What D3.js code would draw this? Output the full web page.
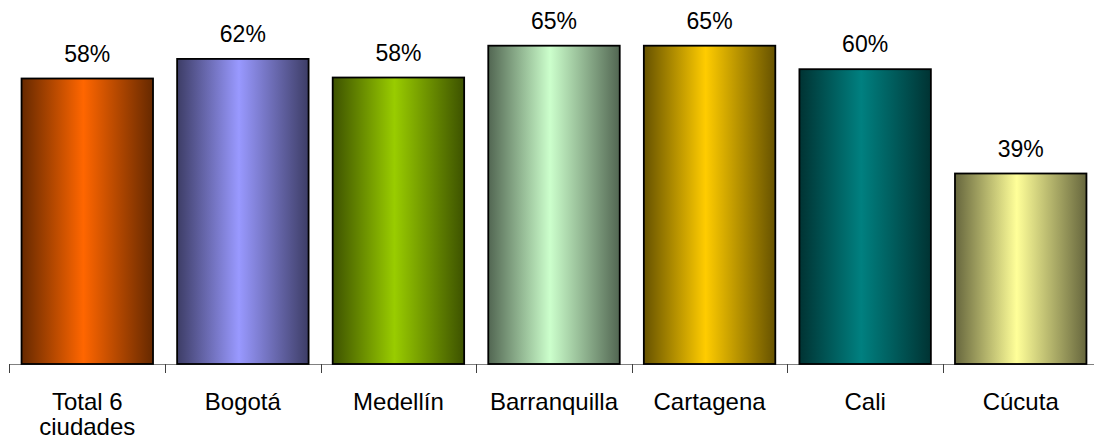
<!DOCTYPE html>
<html>
<head>
<meta charset="utf-8">
<script src="https://cdn.jsdelivr.net/npm/d3@7/dist/d3.min.js"></script>
<style>
  html, body { margin: 0; padding: 0; background: #fff; }
  svg { display: block; }
  text { font-family: "Liberation Sans", Arial, sans-serif; fill: #000; }
</style>
</head>
<body>
<svg id="chart" width="1094" height="444"></svg>
<script>
const categories = ["Total 6\nciudades", "Bogotá", "Medellín", "Barranquilla", "Cartagena", "Cali", "Cúcuta"];
const values = [58.3, 62.3, 58.5, 65, 65, 60.2, 38.9];
const valueLabels = ["58%", "62%", "58%", "65%", "65%", "60%", "39%"];
const baseColors = ["#FF6600", "#9999FF", "#99CC00", "#CCFFCC", "#FFCC00", "#008080", "#FFFF99"];

const svg = d3.select("#chart");
const W = 1094, H = 444;
const axisY = 364;

const x = d3.scaleBand()
  .domain(categories)
  .range([9.5, 1098.5])
  .paddingInner(0.155)
  .paddingOuter(0.0775);

const y = d3.scaleLinear()
  .domain([0, 74.33])
  .range([axisY, 0]);

const defs = svg.append("defs");
categories.forEach((c, i) => {
  const base = d3.color(baseColors[i]);
  const dark = d3.rgb(base.r * 0.4, base.g * 0.4, base.b * 0.4);
  const g = defs.append("linearGradient")
    .attr("id", "grad" + i)
    .attr("x1", "0%").attr("x2", "100%")
    .attr("y1", "0%").attr("y2", "0%");
  g.append("stop").attr("offset", "0%").attr("stop-color", dark.formatHex());
  g.append("stop").attr("offset", "47%").attr("stop-color", base.formatHex());
  g.append("stop").attr("offset", "100%").attr("stop-color", dark.formatHex());
});

// axis line
const step = x.step();
const boundaries = categories.map(c => x(c) - step * x.paddingInner() / 2);
boundaries.push(boundaries[boundaries.length - 1] + step);

svg.append("line")
  .attr("x1", boundaries[0]).attr("x2", W)
  .attr("y1", axisY + 0.5).attr("y2", axisY + 0.5)
  .attr("stroke", "#808080").attr("stroke-width", 1);

svg.selectAll("line.tick")
  .data(boundaries)
  .enter().append("line")
  .attr("class", "tick")
  .attr("x1", d => Math.round(d) + 0.5).attr("x2", d => Math.round(d) + 0.5)
  .attr("y1", axisY).attr("y2", axisY + 9)
  .attr("stroke", "#404040").attr("stroke-width", 1);

// bars
svg.selectAll("rect.bar")
  .data(categories)
  .enter().append("rect")
  .attr("class", "bar")
  .attr("x", d => x(d))
  .attr("y", (d, i) => y(values[i]))
  .attr("width", x.bandwidth())
  .attr("height", (d, i) => axisY - y(values[i]))
  .attr("fill", (d, i) => "url(#grad" + i + ")")
  .attr("stroke", "#000")
  .attr("stroke-width", 1.8);

// value labels
svg.selectAll("text.val")
  .data(categories)
  .enter().append("text")
  .attr("class", "val")
  .attr("x", d => x(d) + x.bandwidth() / 2)
  .attr("y", (d, i) => y(values[i]) - 17)
  .attr("text-anchor", "middle")
  .attr("font-size", "23px")
  .text((d, i) => valueLabels[i]);

// category labels
const cl = svg.selectAll("text.cat")
  .data(categories)
  .enter().append("text")
  .attr("class", "cat")
  .attr("text-anchor", "middle")
  .attr("font-size", "24px")
  .attr("x", d => x(d) + x.bandwidth() / 2)
  .attr("y", 410);
cl.each(function(d) {
  const lines = d.split("\n");
  const t = d3.select(this);
  const cx = x(d) + x.bandwidth() / 2;
  lines.forEach((ln, k) => {
    t.append("tspan").attr("x", cx).attr("dy", k === 0 ? 0 : 25).text(ln);
  });
});
</script>
</body>
</html>
